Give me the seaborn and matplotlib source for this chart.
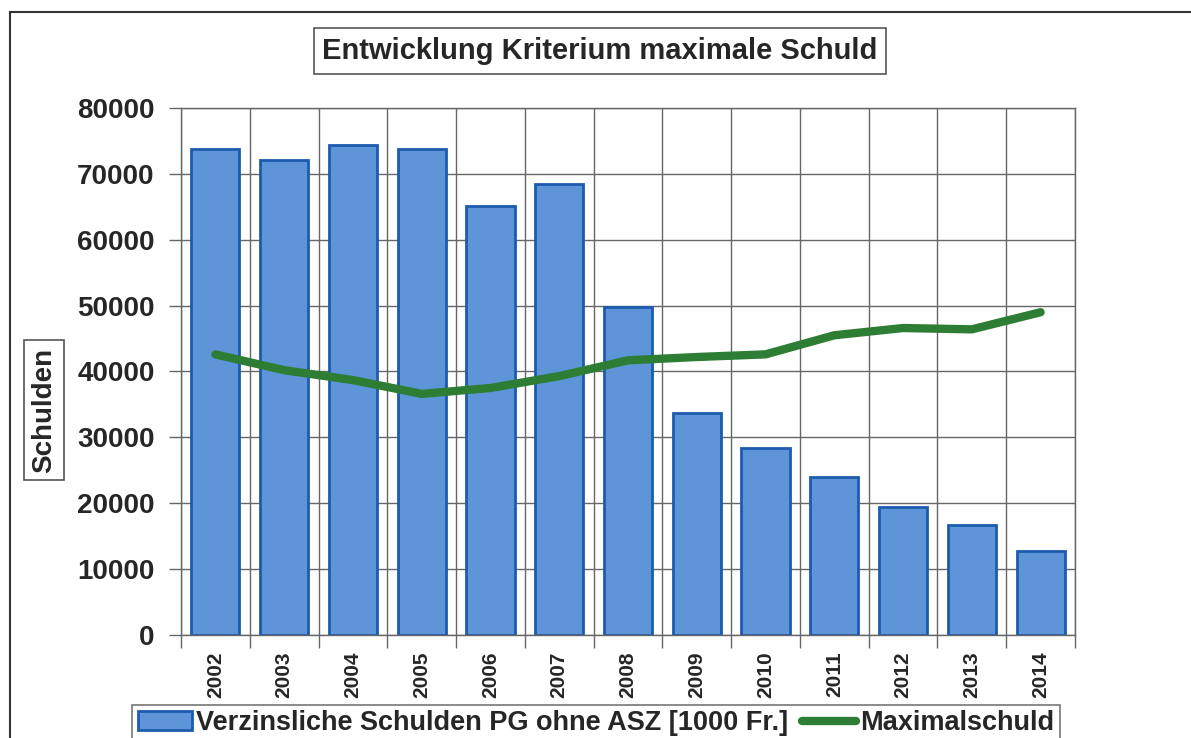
import matplotlib
matplotlib.use("Agg")
import matplotlib.pyplot as plt
from matplotlib.lines import Line2D
from matplotlib.patches import Patch
import seaborn as sns
import pandas as pd
import numpy as np

years = ["2002", "2003", "2004", "2005", "2006", "2007", "2008",
         "2009", "2010", "2011", "2012", "2013", "2014"]
debts = [73800, 72100, 74400, 73800, 65100, 68400, 49800,
         33700, 28400, 24000, 19400, 16700, 12700]
max_debt = [42600, 40200, 38700, 36600, 37500, 39300, 41700,
            42200, 42600, 45500, 46600, 46400, 49000]
y_ticks = [0, 10000, 20000, 30000, 40000, 50000, 60000, 70000, 80000]

bar_label = "Verzinsliche Schulden PG ohne ASZ [1000 Fr.]"
line_label = "Maximalschuld"

df = pd.DataFrame({"Jahr": years, "Schulden": debts, "Max": max_debt})

sns.set_theme(style="white")
plt.rcParams['font.family'] = ['Liberation Sans', 'DejaVu Sans']
plt.rcParams['font.weight'] = 'bold'

bar_color = "#5E95D8"
bar_edge = "#1C5BAE"
line_color = "#2E7D34"
grid_color = "#666666"

fig = plt.figure(figsize=(11.91, 7.38), dpi=100)
W, H = 1191, 738
ax = fig.add_axes([181 / W, 1 - 635 / H, 894 / W, 527 / H])

sns.barplot(data=df, x="Jahr", y="Schulden", color=bar_color, saturation=1,
            width=0.7, edgecolor=bar_edge, linewidth=2, ax=ax)
sns.lineplot(x=df.index, y=df["Max"], color=line_color, linewidth=6,
             solid_capstyle="round", ax=ax, zorder=4)

ax.set_xlim(-0.5, len(years) - 0.5)
ax.set_ylim(0, 80000)
ax.set_yticks(y_ticks)
ax.set_yticklabels([str(v) for v in y_ticks], fontsize=20, fontweight="bold")
ax.set_xticks(range(len(years)))
ax.set_xticklabels(years, rotation=90, fontsize=15, fontweight="bold")
ax.set_xticks(np.arange(-0.5, len(years)), minor=True)
ax.tick_params(axis="x", which="major", length=0, pad=12)
ax.tick_params(axis="x", which="minor", length=9, width=1, color=grid_color, direction="out", bottom=True)
ax.tick_params(axis="y", which="major", length=9, width=1, color=grid_color, direction="out", left=True, pad=10)
ax.set_axisbelow(True)
ax.grid(axis="y", which="major", color=grid_color, linewidth=1)
ax.grid(axis="x", which="minor", color=grid_color, linewidth=1)
ax.grid(axis="x", which="major", visible=False)
for s in ax.spines.values():
    s.set_color(grid_color)
    s.set_linewidth(1)
ax.set_xlabel("")
ax.set_ylabel("")

fig.text(600 / W, 1 - 51 / H, "Entwicklung Kriterium maximale Schuld",
         ha="center", va="center", fontsize=21, fontweight="bold",
         bbox=dict(boxstyle="square,pad=0.3", fc="white", ec="#555555", lw=1.2))
fig.text(44 / W, 1 - 410 / H, "Schulden", rotation=90, ha="center", va="center",
         fontsize=20, fontweight="bold",
         bbox=dict(boxstyle="square,pad=0.25", fc="white", ec="#555555", lw=1.2))

handles = [Patch(facecolor=bar_color, edgecolor=bar_edge, linewidth=2),
           Line2D([0], [0], color=line_color, linewidth=6)]
leg = fig.legend(handles, [bar_label, line_label], loc="upper center",
                 bbox_to_anchor=(596 / W, 1 - 705 / H), ncol=2, frameon=True,
                 fancybox=False, fontsize=19.5, handlelength=2.0, handletextpad=0.15,
                 columnspacing=0.5, borderpad=0.2, borderaxespad=0)
leg.get_frame().set_edgecolor("#555555")
leg.get_frame().set_linewidth(1.2)

fig.add_artist(Line2D([10 / W, 10 / W], [0, 1 - 12 / H], transform=fig.transFigure, color="#333333", lw=1.5))
fig.add_artist(Line2D([10 / W, 1], [1 - 12 / H, 1 - 12 / H], transform=fig.transFigure, color="#333333", lw=1.5))

fig.savefig("out.png", dpi=100, facecolor="white")
